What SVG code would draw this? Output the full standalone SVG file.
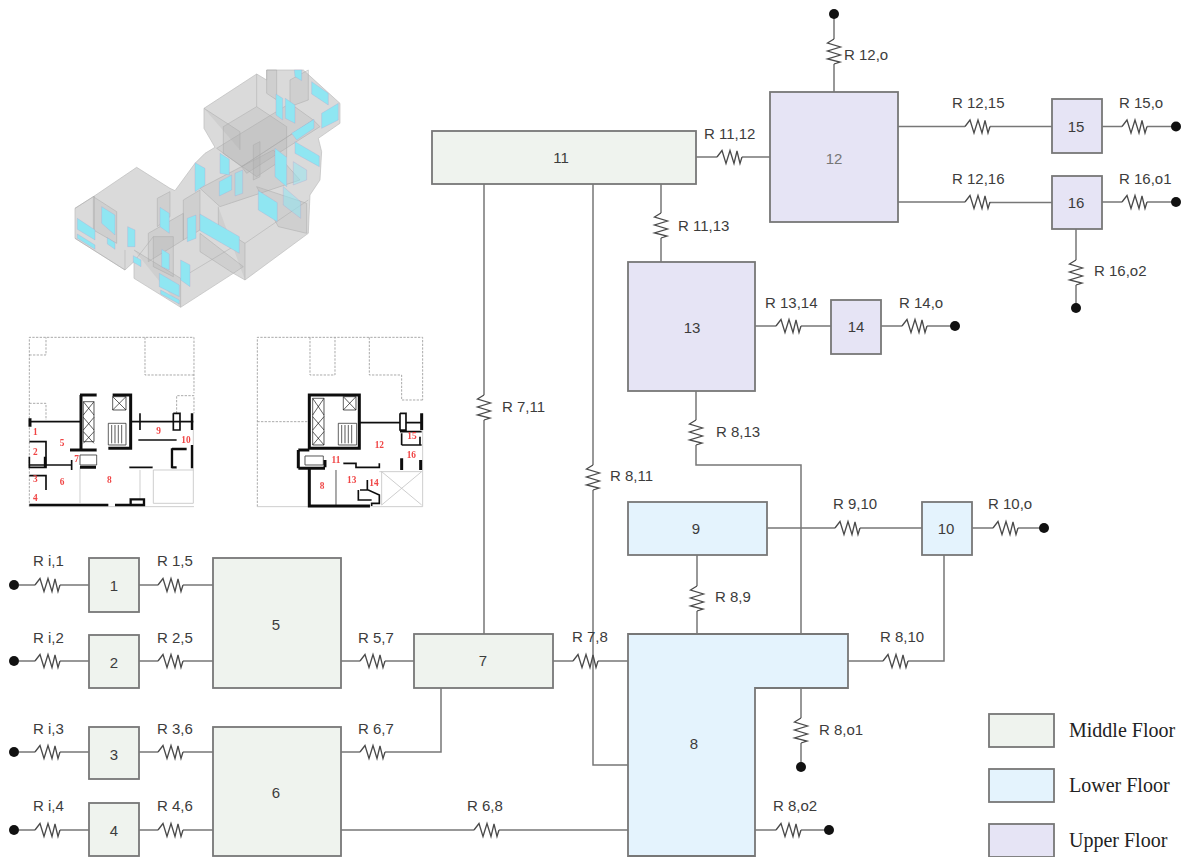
<svg xmlns="http://www.w3.org/2000/svg" width="1184" height="857" viewBox="0 0 1184 857">
<style>
text{font-family:"Liberation Sans",Arial,sans-serif;font-size:15px;fill:#3c3c3c}
.n{text-anchor:middle}
.box{stroke:#777;stroke-width:1.8}
.g{fill:#eff3ee}.b{fill:#e4f3fd}.p{fill:#e6e4f5}
.w{fill:none;stroke:#777;stroke-width:1.5}
.r{fill:none;stroke:#4a4a4a;stroke-width:1.3}
.d{fill:#111}
.leg{font-family:"Liberation Serif","Times New Roman",serif;font-size:20px;fill:#222}
.rm{font-family:"Liberation Serif","Times New Roman",serif;font-size:28px;font-weight:bold;fill:#f04545;text-anchor:middle}
.k{fill:none;stroke:#111}
.ds{fill:none;stroke:#999;stroke-width:2.5;stroke-dasharray:7 4}
.lt{fill:none;stroke:#c4c4c4;stroke-width:2.5}
.win{fill:#8fe6f2;stroke:#a9c;stroke-width:.8}
.f1{fill:#a8a8a8;fill-opacity:.22;stroke:#aaa;stroke-width:1.5}
</style>
<defs>
<filter id="soft" x="-5%" y="-5%" width="110%" height="110%"><feGaussianBlur stdDeviation="1.6"/></filter>
<path id="rh" class="r" d="M0 0L5 -6.5L9 6.5L13 -6.5L17 6.5L20 -6L23 6.5L25 0"/>
<path id="rv" class="r" d="M0 0L-6.500 4L6.500 8L-6.500 12L6.500 16L-6.500 20L6 23L0 25"/>
</defs>

<g id="isometric" transform="translate(60 70) scale(.3333)" filter="url(#soft)">
<path fill="#dadada" stroke="#bbb" stroke-width="2" d="M45 415L103 378L230 292L330 355L345 362L405 280L435 250L465 232L432 175V115L590 12L620 30V0H730L840 100V160L775 205L785 245L780 330L750 375L745 490L555 630L520 610L362 712L222 625V575L195 600L45 505Z"/>
<path class="f1" d="M490 170L590 110L680 170L680 260L590 320L490 250Z"/>
<path class="f1" d="M470 235L690 100L760 150L545 290Z"/>
<path class="f1" d="M545 290L760 150L780 170L560 310Z"/>
<path class="f1" d="M580 225L600 215V320L580 330Z"/>
<path class="f1" d="M620 0H650V90L620 70Z"/>
<path class="f1" d="M690 30L745 0V90L690 110Z"/>
<path class="f1" d="M420 355L640 240L720 330L480 410Z"/>
<path class="f1" d="M590 350L740 400V490L655 470Z"/>
<path class="f1" d="M100 380L170 425V520L100 480Z"/>
<path class="f1" d="M292 385L330 365V440L292 470Z"/>
<path class="f1" d="M265 490L370 430V510L265 575Z"/>
<path class="f1" d="M370 390L420 360V480L370 510Z"/>
<path class="f1" d="M280 500H340V620L280 590Z"/>
<path class="f1" d="M420 490L550 590L520 610L420 545Z"/>
<path class="f1" d="M45 415L103 378M103 378V480M195 540V600M45 505L195 600M222 575L280 500M362 712V625L222 540M362 625L520 530M555 630V520L475 470V410M555 520L745 390M432 115L540 185V240M590 12V110" fill="none"/>
<path class="win" d="M52 445L105 480V510L52 478Z"/>
<path class="win" d="M52 492L105 525V538L52 505Z"/>
<path class="win" d="M125 410L165 435V495L125 460Z"/>
<path class="win" d="M142 503L165 518V538L142 522Z"/>
<path class="win" d="M203 470L225 480V530L203 530Z"/>
<path class="win" d="M220 557L243 570V590L220 577Z"/>
<path class="win" d="M300 412L328 430V490L300 470Z"/>
<path class="win" d="M305 538L328 552V600L305 590Z"/>
<path class="win" d="M362 570L390 585V650L362 630Z"/>
<path class="win" d="M298 610L358 645V680L298 650Z"/>
<path class="win" d="M302 660L358 690V702L302 672Z"/>
<path class="win" d="M382 445L408 435V505L382 515Z"/>
<path class="win" d="M420 432L538 500V550L420 482Z"/>
<path class="win" d="M405 278L435 295V345L405 365Z"/>
<path class="win" d="M480 250L508 268V315L480 310Z"/>
<path class="win" d="M478 335L515 315V360L478 378Z"/>
<path class="win" d="M525 310L548 300V370L525 378Z" style="fill-opacity:.7"/>
<path class="win" d="M595 362L652 398V455L595 420Z"/>
<path class="win" d="M670 350L722 395V445L670 405Z" style="fill-opacity:.55"/>
<path class="win" d="M645 235L680 262V350L645 320Z"/>
<path class="win" d="M705 215L778 258V290L705 250Z"/>
<path class="win" d="M695 190L762 148V175L710 210Z"/>
<path class="win" d="M785 130L835 100V150L785 175Z"/>
<path class="win" d="M755 35L805 70V105L755 72Z"/>
<path class="win" d="M648 72L668 85V150L648 135Z"/>
<path class="win" d="M676 85L705 105V160L676 145Z"/>
<path class="win" d="M703 0H725V32L705 20Z"/>
<path class="win" d="M700 275L740 300V330L700 345Z" style="fill-opacity:.5"/>
</g>

<g id="plan-lower" transform="translate(20 330) scale(.3333)" filter="url(#soft)">
<path class="ds" d="M28 530V22H522V190M28 75H78V22M375 22V135H522M28 220H78V270M470 250V197H522V250"/>
<path class="lt" d="M180 410V520M400 420V520M400 520H520V420H400M520 250V420M28 530H522M360 420V510"/>
<g class="k">
<path stroke-width="9" d="M183 195V360M180 195H230M278 195H332V355H265M150 360H230M180 412H228M30 265V290"/>
<path stroke-width="5" d="M28 275H180M330 275H520M360 250V300M355 330H470M28 405H155M155 390V420M28 335H78V380M28 380V412H78V380M28 437H78V480M328 412H398M460 250V300H480V250H460"/>
<path stroke-width="7" d="M28 525H265M285 525H372V508H332V525M516 250V300M456 355V415M516 345V415M456 357H500M456 412H470M75 380V412"/>
<path stroke-width="2" d="M190 215H222V335H190ZM190 215L222 255M222 215L190 255M190 262L222 300M222 262L190 300M190 305L222 340M222 305L190 340M278 200H318V240H278ZM278 200L318 240M318 200L278 240M265 280H318V345H265ZM275 285V340M285 285V340M295 285V340M305 285V340M180 375H230V405H180Z"/>
</g>
<text class="rm" x="46" y="315">1</text><text class="rm" x="46" y="375">2</text><text class="rm" x="46" y="457">3</text><text class="rm" x="46" y="512">4</text>
<text class="rm" x="126" y="347">5</text><text class="rm" x="126" y="465">6</text><text class="rm" x="170" y="395">7</text><text class="rm" x="268" y="460">8</text><text class="rm" x="416" y="312">9</text><text class="rm" x="498" y="338">10</text>
</g>

<g id="plan-upper" transform="translate(250 330) scale(.3333)" filter="url(#soft)">
<path class="ds" d="M22 530V22H518V210M22 275H178M180 22V135H255V22M358 22V135H455V210H518"/>
<path class="lt" d="M22 530H518V420M388 425H515M395 425L515 525M515 425L395 525M395 425V525M518 250V420"/>
<g class="k">
<path stroke-width="9" d="M178 195H328V355H178ZM178 415V528H360M145 360H178M145 415H225M145 360V415M225 390V412M515 250V300M455 385V420M512 390V420"/>
<path stroke-width="5" d="M328 278H450M450 250V300H468V250H450M468 278H515M280 400H318V412H388V400M450 305H515M455 345V310M510 320V345M455 345H515M330 480H355L388 495V520H365V528M325 480V510H365M352 480V450"/>
<path stroke-width="2" d="M188 205H222V345H188ZM188 205L222 255M222 205L188 255M188 260L222 300M222 260L188 300M188 305L222 345M222 305L188 345M280 200H318V240H280ZM280 200L318 240M318 200L280 240M265 280H320V345H265ZM275 285V340M285 285V340M295 285V340M305 285V340M165 378H220V405H165ZM258 420V525"/>
</g>
<text class="rm" x="486" y="326">15</text><text class="rm" x="388" y="353">12</text><text class="rm" x="484" y="384">16</text><text class="rm" x="258" y="400">11</text><text class="rm" x="305" y="460">13</text><text class="rm" x="372" y="468">14</text><text class="rm" x="216" y="478">8</text>
</g>

<g id="connectors">
<path class="w" d="M19 585H35M60 585H89M139 585H158M183 585H213"/>
<path class="w" d="M19 661H35M60 661H89M139 661H158M183 661H213"/>
<path class="w" d="M19 752H35M60 752H89M139 752H158M183 752H213"/>
<path class="w" d="M19 830H35M60 830H89M139 830H158M183 830H213"/>
<path class="w" d="M341 661H360M385 661H414M553 661H573M598 661H628"/>
<path class="w" d="M341 752H360M385 752H441V688"/>
<path class="w" d="M341 830H474M499 830H628"/>
<path class="w" d="M484 634V420M484 395V184"/>
<path class="w" d="M593 184V465M593 490V765H628"/>
<path class="w" d="M696 157H717M742 157H770"/>
<path class="w" d="M661 184V213M661 238V262"/>
<path class="w" d="M834 14V39M834 64V92"/>
<path class="w" d="M898 126.500H965M990 126.500H1052M1102 126.500H1122M1147 126.500H1176"/>
<path class="w" d="M898 202H965M990 202.500H1052M1102 202H1122M1147 202H1176"/>
<path class="w" d="M1076 229V260M1076 285V308"/>
<path class="w" d="M755 326H776M801 326H831M881 326H902M927 326H955"/>
<path class="w" d="M696 391V420M696 445V465H801V634"/>
<path class="w" d="M767 528H835M860 528H922M972 528H993M1018 528H1044"/>
<path class="w" d="M848 661H883M908 661H944V555"/>
<path class="w" d="M697 555V586M697 611V634"/>
<path class="w" d="M801 688V718M801 743V767"/>
<path class="w" d="M755 830H776M801 830H829"/>
<use href="#rh" x="35" y="585"/><use href="#rh" x="158" y="585"/>
<use href="#rh" x="35" y="661"/><use href="#rh" x="158" y="661"/>
<use href="#rh" x="35" y="752"/><use href="#rh" x="158" y="752"/>
<use href="#rh" x="35" y="830"/><use href="#rh" x="158" y="830"/>
<use href="#rh" x="360" y="661"/><use href="#rh" x="360" y="752"/><use href="#rh" x="573" y="661"/><use href="#rh" x="474" y="830"/>
<use href="#rh" x="717" y="157"/><use href="#rh" x="965" y="126.500"/><use href="#rh" x="1122" y="126.500"/><use href="#rh" x="965" y="202"/><use href="#rh" x="1122" y="202"/>
<use href="#rh" x="776" y="326"/><use href="#rh" x="902" y="326"/><use href="#rh" x="835" y="528"/><use href="#rh" x="993" y="528"/><use href="#rh" x="883" y="661"/><use href="#rh" x="776" y="830"/>
<use href="#rv" x="484" y="395"/><use href="#rv" x="593" y="465"/><use href="#rv" x="661" y="213"/><use href="#rv" x="834" y="39"/><use href="#rv" x="1076" y="260"/><use href="#rv" x="696" y="420"/><use href="#rv" x="697" y="586"/><use href="#rv" x="801" y="718"/>
<g class="d">
<circle cx="14" cy="585" r="5"/><circle cx="14" cy="661" r="5"/><circle cx="14" cy="752" r="5"/><circle cx="14" cy="830" r="5"/>
<circle cx="834" cy="14" r="5"/><circle cx="1176" cy="126.500" r="5"/><circle cx="1176" cy="202" r="5"/><circle cx="1076" cy="308" r="5"/><circle cx="955" cy="326" r="5"/><circle cx="1044" cy="528" r="5"/><circle cx="801" cy="767" r="5"/><circle cx="829" cy="830" r="5"/>
</g>
<g id="connector-labels">
<text x="33" y="566">R i,1</text><text x="157" y="566">R 1,5</text><text x="33" y="643">R i,2</text><text x="157" y="643">R 2,5</text><text x="358" y="643">R 5,7</text>
<text x="33" y="734">R i,3</text><text x="157" y="734">R 3,6</text><text x="358" y="734">R 6,7</text><text x="33" y="811">R i,4</text><text x="157" y="811">R 4,6</text><text x="467" y="811">R 6,8</text>
<text x="572" y="642">R 7,8</text><text x="715" y="602">R 8,9</text><text x="880" y="642">R 8,10</text><text x="833" y="509">R 9,10</text><text x="988" y="509">R 10,o</text>
<text x="819" y="735">R 8,o1</text><text x="773" y="811">R 8,o2</text><text x="716" y="437">R 8,13</text><text x="610" y="481">R 8,11</text><text x="502" y="412">R 7,11</text>
<text x="678" y="231">R 11,13</text><text x="704" y="139">R 11,12</text><text x="765" y="308">R 13,14</text><text x="899" y="308">R 14,o</text><text x="844" y="60">R 12,o</text>
<text x="952" y="108">R 12,15</text><text x="1119" y="108">R 15,o</text><text x="952" y="184">R 12,16</text><text x="1119" y="184">R 16,o1</text><text x="1094" y="276">R 16,o2</text>
</g>
</g>

<g id="node-1"><rect class="box g" x="89" y="558" width="50" height="54"/><text class="n" x="114" y="591">1</text></g>
<g id="node-2"><rect class="box g" x="89" y="635" width="50" height="53"/><text class="n" x="114" y="668">2</text></g>
<g id="node-3"><rect class="box g" x="89" y="727" width="50" height="52"/><text class="n" x="114" y="760">3</text></g>
<g id="node-4"><rect class="box g" x="89" y="803" width="50" height="53"/><text class="n" x="114" y="836">4</text></g>
<g id="node-5"><rect class="box g" x="213" y="558" width="128" height="130"/><text class="n" x="276" y="630">5</text></g>
<g id="node-6"><rect class="box g" x="213" y="727" width="128" height="129"/><text class="n" x="276" y="798">6</text></g>
<g id="node-7"><rect class="box g" x="414" y="634" width="139" height="54"/><text class="n" x="483" y="666">7</text></g>
<g id="node-8"><path class="box b" d="M628 634H848V688H755V856H628Z"/><text class="n" x="694" y="749">8</text></g>
<g id="node-9"><rect class="box b" x="628" y="502" width="139" height="53"/><text class="n" x="696" y="534">9</text></g>
<g id="node-10"><rect class="box b" x="922" y="502" width="50" height="53"/><text class="n" x="946" y="534">10</text></g>
<g id="node-11"><rect class="box g" x="432" y="131" width="264" height="53"/><text class="n" x="561" y="163">11</text></g>
<g id="node-12"><rect class="box p" x="770" y="92" width="128" height="130"/><text class="n" x="834" y="164" style="fill:#777">12</text></g>
<g id="node-13"><rect class="box p" x="628" y="262" width="127" height="129"/><text class="n" x="692" y="333">13</text></g>
<g id="node-14"><rect class="box p" x="831" y="300" width="50" height="54"/><text class="n" x="856" y="332">14</text></g>
<g id="node-15"><rect class="box p" x="1052" y="99" width="50" height="54"/><text class="n" x="1076" y="132">15</text></g>
<g id="node-16"><rect class="box p" x="1052" y="176" width="50" height="53"/><text class="n" x="1076" y="208">16</text></g>

<g id="legend">
<rect class="box g" x="989" y="714" width="65" height="33"/><text class="leg" x="1069" y="737">Middle Floor</text>
<rect class="box b" x="989" y="769" width="65" height="33"/><text class="leg" x="1069" y="792">Lower Floor</text>
<rect class="box p" x="989" y="824" width="65" height="33"/><text class="leg" x="1069" y="847">Upper Floor</text>
</g>
</svg>
